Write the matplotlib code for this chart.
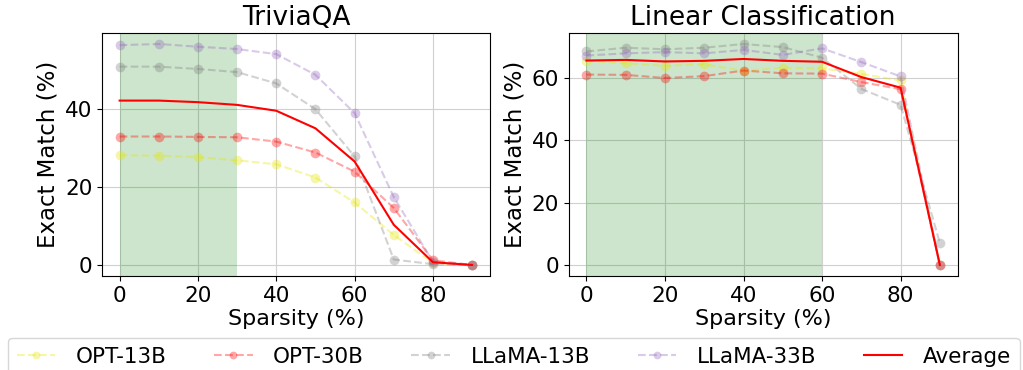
import matplotlib
matplotlib.use('Agg')
import matplotlib.pyplot as plt

# Sparsity levels (%)
sparsity = [0, 10, 20, 30, 40, 50, 60, 70, 80, 90]

# TriviaQA exact match (%)
tqa_opt13 = [28.1, 28.0, 27.6, 26.8, 25.8, 22.4, 16.0, 7.7, 0.5, 0.0]
tqa_opt30 = [32.9, 32.9, 32.8, 32.7, 31.6, 28.8, 23.9, 14.6, 1.2, 0.0]
tqa_llama13 = [50.8, 50.8, 50.2, 49.4, 46.5, 39.9, 27.8, 1.4, 0.2, 0.0]
tqa_llama33 = [56.3, 56.6, 55.9, 55.3, 54.0, 48.7, 38.9, 17.4, 0.8, 0.0]
tqa_avg = [42.1, 42.1, 41.7, 41.0, 39.5, 35.0, 26.5, 10.3, 0.7, 0.0]

# Linear classification exact match (%)
lc_opt13 = [65.4, 64.6, 63.8, 64.3, 62.2, 63.2, 63.0, 61.2, 59.1, 0.0]
lc_opt30 = [61.0, 60.9, 59.9, 60.5, 62.3, 61.4, 61.3, 58.6, 56.3, 0.0]
lc_llama13 = [68.4, 69.6, 69.1, 69.6, 70.8, 69.8, 66.4, 56.4, 51.3, 7.0]
lc_llama33 = [67.1, 67.8, 68.2, 67.8, 68.9, 67.3, 69.4, 65.0, 60.4, 0.0]
lc_avg = [65.5, 65.7, 65.2, 65.4, 66.0, 65.4, 65.1, 60.2, 56.8, 0.0]

models = ['OPT-13B', 'OPT-30B', 'LLaMA-13B', 'LLaMA-33B']
colors = ['#e6e600', 'red', 'gray', 'tab:purple']

panels = [
    ('TriviaQA', [tqa_opt13, tqa_opt30, tqa_llama13, tqa_llama33], tqa_avg, 30),
    ('Linear Classification', [lc_opt13, lc_opt30, lc_llama13, lc_llama33], lc_avg, 60),
]

fig = plt.figure(figsize=(10.23, 3.7), dpi=100)
ax1 = fig.add_axes([0.0997, 0.254, 0.379, 0.657])
ax2 = fig.add_axes([0.556, 0.254, 0.380, 0.657])

for ax, (title, series, avg, shade) in zip([ax1, ax2], panels):
    ax.axvspan(0, shade, color='green', alpha=0.2, lw=0)
    for name, vals, c in zip(models, series, colors):
        ax.plot(sparsity, vals, marker='o', markersize=7, markeredgewidth=0,
                linestyle='--', color=c, alpha=0.35, label=name)
    ax.plot(sparsity, avg, color='red', linewidth=1.5, label='Average')
    ax.set_title(title, fontsize=19)
    ax.set_xlabel('Sparsity (%)', fontsize=16, labelpad=2)
    ax.set_ylabel('Exact Match (%)', fontsize=16.5)
    ax.tick_params(labelsize=15.5)
    ax.set_xticks([0, 20, 40, 60, 80])
    ax.grid(True, color='#d0d0d0')
    ax.set_axisbelow(True)

handles, labels = ax1.get_legend_handles_labels()
fig.legend(handles, labels, loc='upper left', bbox_to_anchor=(8 / 1023, 1 - 338 / 370), ncol=5,
           fontsize=15.5, columnspacing=2.2, handlelength=1.8, handletextpad=0.95,
           markerscale=0.8, borderaxespad=0)

plt.savefig('out.png', dpi=100)
